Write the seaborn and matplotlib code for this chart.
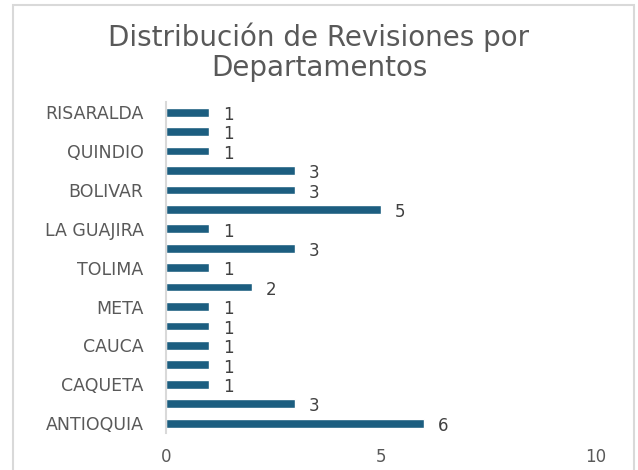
import matplotlib
matplotlib.use("Agg")
import matplotlib.pyplot as plt
import seaborn as sns
import pandas as pd
from matplotlib.patches import Rectangle

# ── Data (top to bottom, as drawn) ─────────────────────────────────────────────
departamentos = [
    "RISARALDA", "CALDAS", "QUINDIO", "MAGDALENA", "BOLIVAR", "ATLANTICO",
    "LA GUAJIRA", "SANTANDER", "TOLIMA", "BOYACA", "META", "NARIÑO",
    "CAUCA", "HUILA", "CAQUETA", "CUNDINAMARCA", "ANTIOQUIA",
]
revisiones = [1, 1, 1, 3, 3, 5, 1, 3, 1, 2, 1, 1, 1, 1, 1, 3, 6]
# only every other name is printed on the axis
etiquetas_visibles = ["RISARALDA", "QUINDIO", "BOLIVAR", "LA GUAJIRA",
                      "TOLIMA", "META", "CAUCA", "CAQUETA", "ANTIOQUIA"]
x_ticks = [0, 5, 10]

df = pd.DataFrame({"departamento": departamentos, "revisiones": revisiones})

sns.set_theme(style="white")
plt.rcParams["font.family"] = ["DejaVu Sans"]

BAR = "#1C5E80"
GREY = "#595959"

fig = plt.figure(figsize=(6.38, 4.70), dpi=100)
ax = fig.add_axes([0.260, 0.079, 0.674, 0.703])

sns.barplot(data=df, y="departamento", x="revisiones", orient="h",
            color=BAR, width=0.45, saturation=1, ax=ax)

# value labels
for i, v in enumerate(revisiones):
    ax.annotate(str(v), xy=(v, i), xytext=(10, -2), textcoords="offset points",
                ha="left", va="center", fontsize=12, color="#404040")

ax.set_xlim(0, 10)
ax.set_ylim(len(departamentos) - 0.5, -0.5)
ax.set_xticks(x_ticks)
ax.set_xticklabels([str(t) for t in x_ticks], fontsize=12, color=GREY)
ax.set_yticks(range(len(departamentos)))
ax.set_yticklabels([d if d in etiquetas_visibles else "" for d in departamentos],
                   fontsize=12.5, color=GREY)
ax.tick_params(axis="y", length=0, pad=16)
ax.tick_params(axis="x", length=0, pad=11)
ax.set_xlabel("")
ax.set_ylabel("")

for s in ["top", "right", "bottom"]:
    ax.spines[s].set_visible(False)
ax.spines["left"].set_color("#D9D9D9")
ax.spines["left"].set_linewidth(1.5)

fig.text(0.5, 0.889, "Distribución de Revisiones por\nDepartamentos",
         ha="center", va="center", fontsize=20, color=GREY, linespacing=1.1)

# chart area border
fig.patches.append(Rectangle((13 / 638, -0.01), 621 / 638, 1 - 5 / 470 + 0.01,
                             transform=fig.transFigure, fill=False,
                             edgecolor="#D9D9D9", linewidth=1.5))

fig.savefig("out.png", dpi=100)
